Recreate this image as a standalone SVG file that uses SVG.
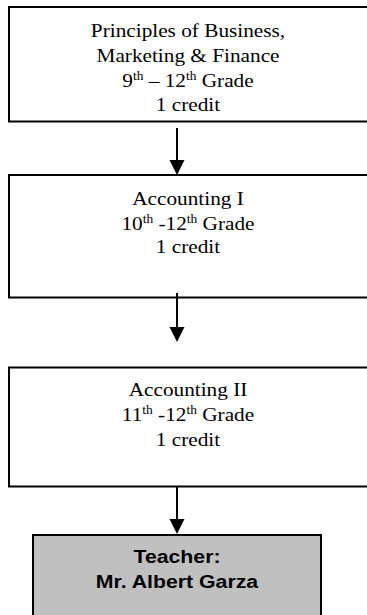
<svg xmlns="http://www.w3.org/2000/svg" width="367" height="615" viewBox="0 0 367 615">
<style>
.box{fill:#fff;stroke:#000;stroke-width:2}
.gbox{fill:#c0c0c0;stroke:#000;stroke-width:2}
.t{font-family:"Liberation Serif","Times New Roman",serif;font-size:19px;fill:#000;text-anchor:middle}
.b{font-family:"Liberation Sans",Arial,sans-serif;font-size:19px;font-weight:bold;fill:#000;text-anchor:middle}
.sup{font-size:12px}
.ln{stroke:#000;stroke-width:2;fill:none}
.ah{fill:#000}
</style>
<rect width="367" height="615" fill="#fff"/>
<g id="node-pbmf">
<rect class="box" x="9" y="7" width="362" height="114.5"/>
<g transform="translate(188 0) scale(1.12 1)">
<text class="t" x="0" y="37">Principles of Business,</text>
<text class="t" x="0" y="62">Marketing &amp; Finance</text>
<text class="t" x="0" y="87">9<tspan class="sup" dy="-7">th</tspan><tspan dy="7"> – 12</tspan><tspan class="sup" dy="-7">th</tspan><tspan dy="7"> Grade</tspan></text>
<text class="t" x="0" y="111">1 credit</text>
</g>
</g>
<g id="node-acc1">
<rect class="box" x="9" y="175" width="362" height="122.5"/>
<g transform="translate(188 0) scale(1.12 1)">
<text class="t" x="0" y="205.5">Accounting I</text>
<text class="t" x="0" y="230">10<tspan class="sup" dy="-7">th</tspan><tspan dy="7"> -12</tspan><tspan class="sup" dy="-7">th</tspan><tspan dy="7"> Grade</tspan></text>
<text class="t" x="0" y="253.5">1 credit</text>
</g>
</g>
<g id="node-acc2">
<rect class="box" x="9" y="367.5" width="362" height="119"/>
<g transform="translate(188 0) scale(1.12 1)">
<text class="t" x="0" y="396.5">Accounting II</text>
<text class="t" x="0" y="421.5">11<tspan class="sup" dy="-7">th</tspan><tspan dy="7"> -12</tspan><tspan class="sup" dy="-7">th</tspan><tspan dy="7"> Grade</tspan></text>
<text class="t" x="0" y="446.5">1 credit</text>
</g>
</g>
<g id="node-teacher">
<rect class="gbox" x="33" y="535" width="288" height="100"/>
<g transform="translate(177 0) scale(1.12 1)">
<text class="b" x="0" y="563">Teacher:</text>
<text class="b" x="0" y="588">Mr. Albert Garza</text>
</g>
</g>
<g id="connectors">
<line class="ln" x1="177" y1="128" x2="177" y2="161"/>
<polygon class="ah" points="169.5,160 184.5,160 177,175"/>
<line class="ln" x1="177" y1="293" x2="177" y2="328"/>
<polygon class="ah" points="169.5,327 184.5,327 177,342"/>
<line class="ln" x1="177" y1="486.5" x2="177" y2="520"/>
<polygon class="ah" points="169.5,519 184.5,519 177,534"/>
</g>
</svg>
